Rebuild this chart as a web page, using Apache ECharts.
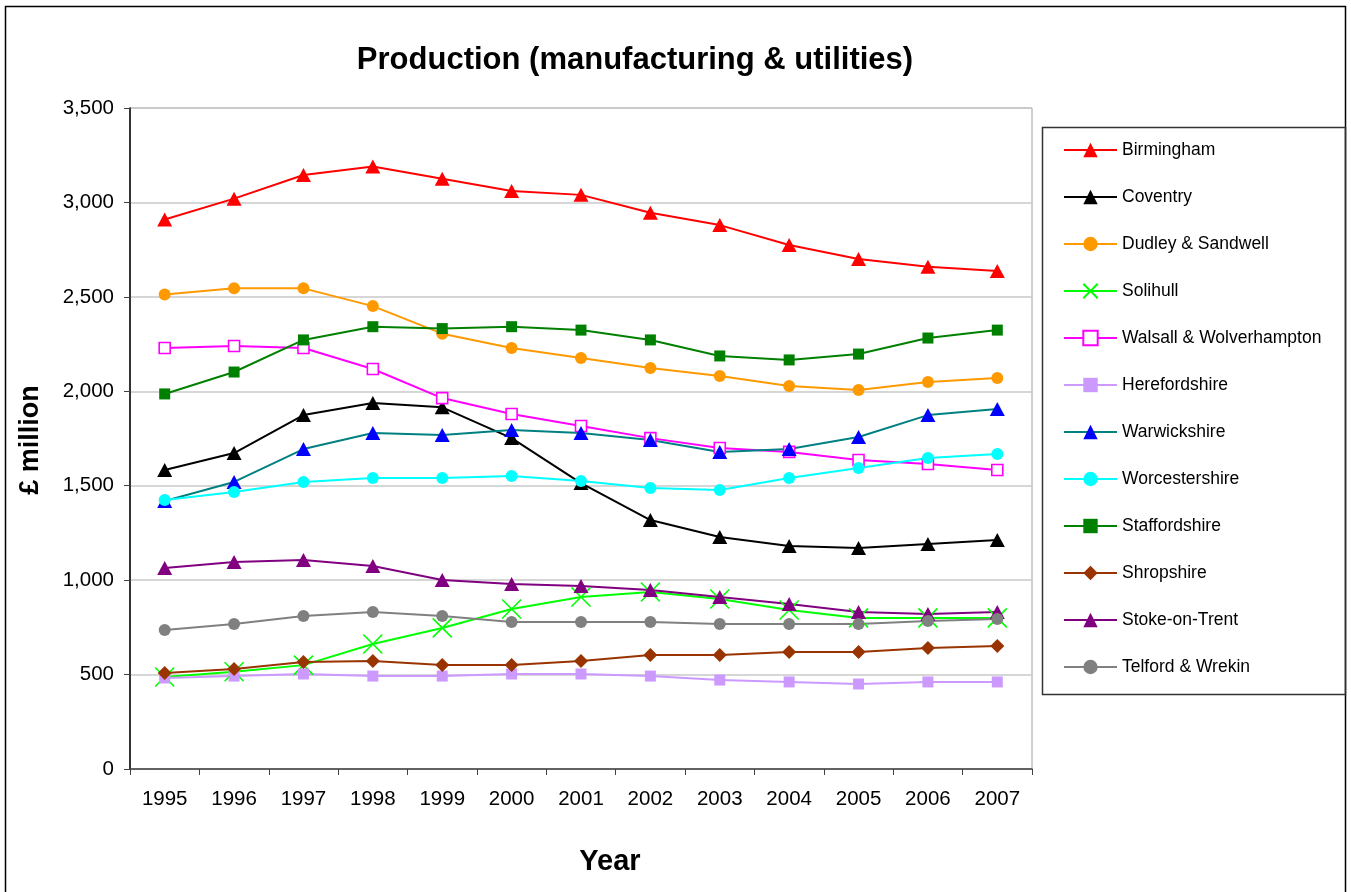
<!DOCTYPE html>
<html>
<head>
<meta charset="utf-8">
<script src="https://cdn.jsdelivr.net/npm/echarts@6/dist/echarts.min.js"></script>
<style>
  html, body { margin: 0; padding: 0; background: #fff; }
  #chart { width: 1351px; height: 892px; }
</style>
</head>
<body>
<div id="chart"></div>
<script>
var years = ['1995', '1996', '1997', '1998', '1999', '2000', '2001', '2002', '2003', '2004', '2005', '2006', '2007'];

var birmingham = [2910, 3020, 3145, 3190, 3125, 3060, 3040, 2945, 2880, 2775, 2700, 2660, 2637];
var coventry = [1583, 1673, 1874, 1938, 1915, 1752, 1514, 1318, 1228, 1181, 1170, 1191, 1212];
var dudley = [2512, 2545, 2545, 2451, 2305, 2229, 2176, 2123, 2081, 2028, 2007, 2049, 2070];
var solihull = [487, 515, 550, 662, 747, 847, 911, 937, 900, 842, 800, 800, 800];
var walsall = [2229, 2240, 2229, 2118, 1964, 1880, 1816, 1752, 1700, 1679, 1636, 1615, 1583];
var hereford = [482, 492, 503, 492, 492, 503, 503, 492, 471, 461, 450, 461, 461];
var warwick = [1419, 1520, 1694, 1779, 1768, 1795, 1779, 1742, 1679, 1694, 1758, 1874, 1906];
var worcester = [1424, 1467, 1520, 1541, 1541, 1551, 1525, 1488, 1477, 1541, 1594, 1647, 1668];
var stafford = [1986, 2102, 2272, 2342, 2332, 2342, 2324, 2272, 2187, 2166, 2197, 2282, 2324];
var shropshire = [508, 530, 567, 572, 551, 551, 572, 604, 604, 620, 620, 641, 651];
var stoke = [1064, 1096, 1107, 1075, 1001, 980, 969, 948, 911, 874, 831, 821, 831];
var telford = [736, 768, 810, 831, 810, 778, 778, 778, 768, 768, 768, 784, 794];

var yTicks = [0, 500, 1000, 1500, 2000, 2500, 3000, 3500];

var crossPath = 'path://M0,0L10,10M10,0L0,10';

function line(name, data, lineColor, symbol, size, fill, border) {
  return {
    name: name,
    type: 'line',
    data: data,
    symbol: symbol,
    symbolSize: size,
    showAllSymbol: true,
    lineStyle: { color: lineColor, width: 2 },
    itemStyle: { color: fill, borderColor: border || fill, borderWidth: border ? 1.6 : 0 },
    emphasis: { disabled: true },
    z: 3
  };
}

var series = [
  line('Birmingham', birmingham, '#FF0000', 'triangle', [15, 14], '#FF0000'),
  line('Coventry', coventry, '#000000', 'triangle', [15, 14], '#000000'),
  line('Dudley & Sandwell', dudley, '#FF9900', 'circle', 12, '#FF9900'),
  line('Solihull', solihull, '#00FF00', crossPath, [19, 19], '#00FF00', '#00FF00'),
  line('Walsall & Wolverhampton', walsall, '#FF00FF', 'rect', [11, 11], '#FFFFFF', '#FF00FF'),
  line('Herefordshire', hereford, '#CC99FF', 'rect', [11, 11], '#CC99FF'),
  line('Warwickshire', warwick, '#008080', 'triangle', [15, 14], '#0000FF'),
  line('Worcestershire', worcester, '#00FFFF', 'circle', 12, '#00FFFF'),
  line('Staffordshire', stafford, '#008000', 'rect', [11, 11], '#008000'),
  line('Shropshire', shropshire, '#993300', 'diamond', [14, 14], '#993300'),
  line('Stoke-on-Trent', stoke, '#800080', 'triangle', [15, 14], '#800080'),
  line('Telford & Wrekin', telford, '#808080', 'circle', 12, '#808080')
];

var chart = echarts.init(document.getElementById('chart'));
chart.setOption({
  animation: false,
  backgroundColor: '#ffffff',
  textStyle: { fontFamily: 'Liberation Sans, Arial, sans-serif' },
  title: {
    text: 'Production (manufacturing & utilities)',
    left: 630,
    textAlign: 'center',
    top: 40,
    textStyle: { fontSize: 31, fontWeight: 'bold', color: '#000', fontFamily: 'Liberation Sans, Arial, sans-serif' }
  },
  legend: {
    orient: 'vertical',
    left: 1063,
    top: 141,
    padding: 0,
    itemWidth: 53,
    itemHeight: 18,
    itemGap: 29,
    textStyle: { fontSize: 17.5, color: '#000' },
    data: series.map(function (s) { return s.name; })
  },
  grid: { left: 130, top: 108, right: 319, bottom: 123, show: true, borderColor: '#A0A0A0', borderWidth: 1 },
  xAxis: {
    type: 'category',
    data: years,
    boundaryGap: true,
    axisLine: { lineStyle: { color: '#404040', width: 1.5 } },
    axisTick: { show: true, length: 6, lineStyle: { color: '#404040' } },
    axisLabel: { fontSize: 20.5, color: '#000', margin: 20 }
  },
  yAxis: {
    type: 'value',
    min: yTicks[0],
    max: yTicks[yTicks.length - 1],
    interval: 500,
    axisLine: { show: true, lineStyle: { color: '#000', width: 1.5 } },
    axisTick: { show: true, length: 6, lineStyle: { color: '#404040' } },
    axisLabel: {
      fontSize: 20.5, color: '#000', margin: 16,
      formatter: function (v) { return v.toLocaleString('en-GB'); }
    },
    splitLine: { lineStyle: { color: '#C8C8C8', width: 1.5 } }
  },
  graphic: [
    { type: 'rect', shape: { x: 5.5, y: 6.5, width: 1340, height: 900 }, style: { fill: 'none', stroke: '#000', lineWidth: 1.5 }, silent: true, z: -1 },
    { type: 'rect', shape: { x: 1042.5, y: 127.5, width: 303, height: 567 }, style: { fill: 'none', stroke: '#333', lineWidth: 1.5 }, silent: true },
    {
      type: 'text', x: 610, y: 862,
      style: { text: 'Year', font: 'bold 29px Liberation Sans, Arial, sans-serif', fill: '#000', align: 'center', verticalAlign: 'middle' }
    },
    {
      type: 'text', x: 31, y: 440, rotation: Math.PI / 2,
      style: { text: '£ million', font: 'bold 27px Liberation Sans, Arial, sans-serif', fill: '#000', align: 'center', verticalAlign: 'middle' }
    }
  ],
  series: series
});
</script>
</body>
</html>
